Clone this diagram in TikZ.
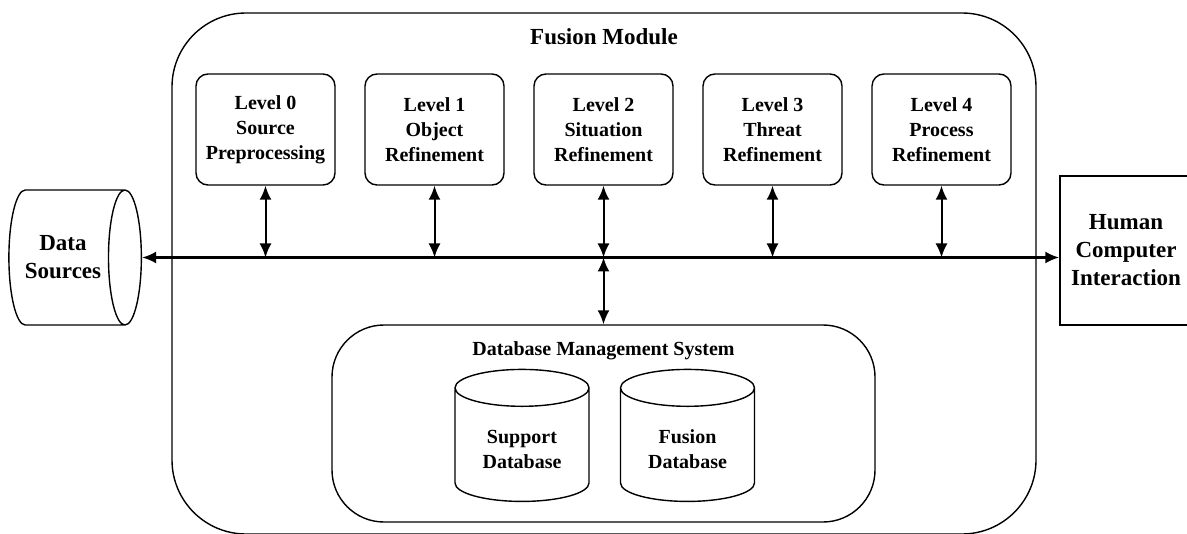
\documentclass[tikz,border=0pt]{standalone}
\usepackage{fontspec}
\setmainfont{Liberation Serif}
\usetikzlibrary{positioning,arrows.meta,shapes.geometric}

\begin{document}
\begin{tikzpicture}[x=0.5pt,y=-0.5pt,>={Latex[length=7pt,width=6pt]},
    lvlbox/.style={draw,line width=0.7pt,rounded corners=6pt,minimum width=69.5pt,minimum height=55.5pt,align=center,font=\fontsize{10}{12.5}\selectfont\bfseries},
    dbcyl/.style={draw,line width=0.7pt,cylinder,shape border rotate=90,aspect=0.4,minimum width=67pt,minimum height=66pt,align=center,font=\fontsize{10}{12.5}\selectfont\bfseries},
    arr/.style={<->,line width=1pt}]
\useasboundingbox (0,0) rectangle (1187,534);

% fusion module
\node[draw,line width=0.7pt,rounded corners=37pt,minimum width=432pt,minimum height=260.5pt] (fusion) at (604,273.5) {};
\node[below=4.5pt of fusion.north,font=\fontsize{11.5}{14}\selectfont\bfseries] (ftitle) {Fusion Module};

\foreach \i/\x/\txt in {0/265.5/Source\\Preprocessing,
    1/434.5/Object\\Refinement,
    2/603.5/Situation\\Refinement,
    3/772.5/Threat\\Refinement,
    4/941.5/Process\\Refinement}
    \node[lvlbox] (lv\i) at (\x,129.5) {Level \i\\\txt};

% outside blocks
\node[draw,line width=0.7pt,cylinder,aspect=0.58,minimum height=65.5pt,minimum width=67.5pt,align=center,font=\fontsize{11.5}{14}\selectfont\bfseries] (ds) at (63,257.5) {Data\\Sources};
\node[draw,line width=0.7pt,minimum width=66pt,minimum height=74.5pt,align=center,font=\fontsize{11.5}{14}\selectfont\bfseries] (hci) at (1126,250.5) {Human\\Computer\\Interaction};

% bus
\draw[<->,line width=1.2pt] (ds.east) -- (ds.east -| hci.west);
\foreach \i in {0,...,4}
    \draw[arr] (lv\i.south) -- (lv\i.south |- ds.east);

% database management
\node[draw,line width=0.7pt,rounded corners=26pt,minimum width=271.5pt,minimum height=98.5pt] (dbms) at (603.5,423.5) {};
\node[below=5pt of dbms.north,font=\fontsize{10}{12.5}\selectfont\bfseries] (dtitle) {Database Management System};
\draw[arr] (lv2.south |- ds.east) -- (dbms.north);

\node[dbcyl] (sdb) at (522,449) {Support\\Database};
\node[dbcyl] (fdb) at (687.5,449) {Fusion\\Database};

\end{tikzpicture}
\end{document}
